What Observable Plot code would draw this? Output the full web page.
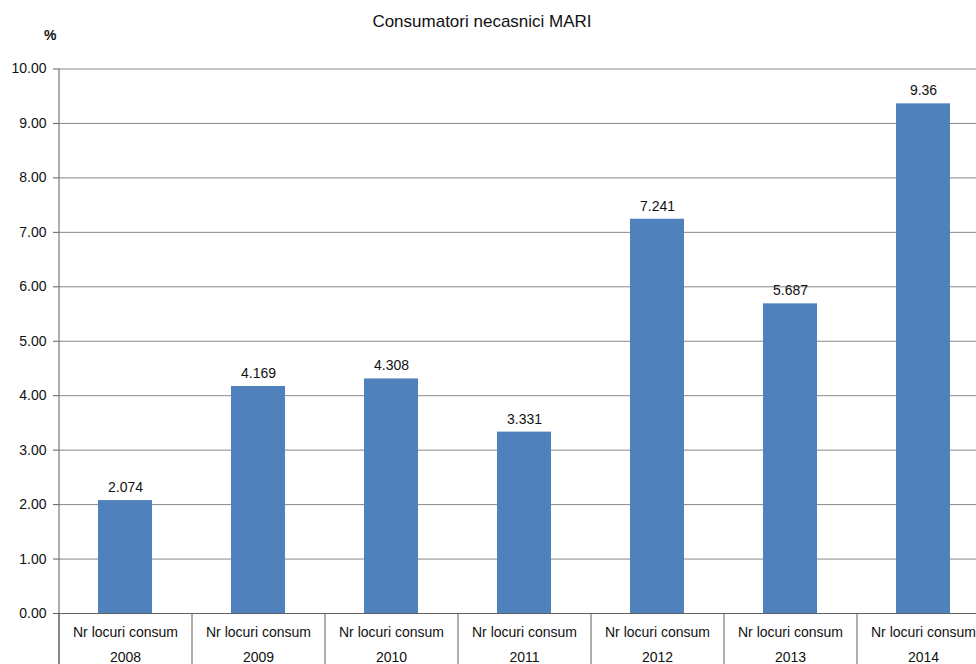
<!DOCTYPE html>
<html>
<head>
<meta charset="utf-8">
<script src="https://cdn.jsdelivr.net/npm/d3@7"></script>
<script src="https://cdn.jsdelivr.net/npm/@observablehq/plot@0.6"></script>
<style>
  html, body { margin: 0; padding: 0; background: #fff; overflow: hidden; }
  #wrap { position: relative; width: 976px; height: 664px; font-family: "Liberation Sans", Arial, sans-serif; }
  #title { position: absolute; top: 12px; left: 0; width: 964px; line-height: 20px; text-align: center; font-size: 17px; color: #111; }
  #unit { position: absolute; top: 27px; left: 44px; font-size: 14px; font-weight: bold; color: #111; }
  #chart { position: absolute; top: 0; left: 0; }
</style>
</head>
<body>
<div id="wrap">
  <div id="chart"></div>
  <div id="title">Consumatori necasnici MARI</div>
  <div id="unit">%</div>
</div>
<script>
// Share of large non-household consumers, by year
const years = ["2008", "2009", "2010", "2011", "2012", "2013", "2014"];
const values = [2.074, 4.169, 4.308, 3.331, 7.241, 5.687, 9.36];
const valueLabels = ["2.074", "4.169", "4.308", "3.331", "7.241", "5.687", "9.36"];
const categoryLabel = "Nr locuri consum";
const yTicks = [0, 1, 2, 3, 4, 5, 6, 7, 8, 9, 10];

const data = years.map((year, i) => ({ year, value: values[i], label: valueLabels[i] }));

const gridColor = "#888888";
const lineColor = "#5f5f5f";

const chart = Plot.plot({
  width: 976,
  height: 664,
  marginLeft: 58,
  marginRight: 0,
  marginTop: 68,
  marginBottom: 51,
  style: { fontFamily: "Liberation Sans, Arial, sans-serif", fontSize: "14px", color: "#111", background: "transparent" },
  x: { domain: years, range: [58, 989], paddingInner: 0.594, paddingOuter: 0.297, axis: null },
  y: { domain: [0, 10], range: [613, 68.5], axis: null },
  marks: [
    Plot.gridY(yTicks, { stroke: gridColor, strokeOpacity: 1 }),
    Plot.barY(data, { x: "year", y: "value", fill: "#4f81bd" }),
    Plot.ruleY([0], { stroke: lineColor }),
    Plot.text(data, { x: "year", y: "value", text: "label", dy: -13, lineAnchor: "middle", fill: "#111" }),
    // y axis with small outward ticks
    Plot.axisY(yTicks, { label: null, tickSize: 5, tickPadding: 7, tickFormat: d3.format(".2f"), stroke: lineColor, fill: "#111" }),
    Plot.ruleX([years[0]], { x: d => d, dx: -66.5, y1: -0.94, y2: 10, stroke: lineColor }),
    // category table below the axis
    Plot.ruleX(years, { x: d => d, dx: -66.5, y1: -0.94, y2: 0, stroke: lineColor }),
    Plot.text(years, { x: d => d, frameAnchor: "bottom", dy: 19, lineAnchor: "middle", text: () => categoryLabel, fill: "#111" }),
    Plot.text(years, { x: d => d, frameAnchor: "bottom", dy: 44, lineAnchor: "middle", text: d => d, fill: "#111" })
  ]
});

document.getElementById("chart").append(chart);
</script>
</body>
</html>
